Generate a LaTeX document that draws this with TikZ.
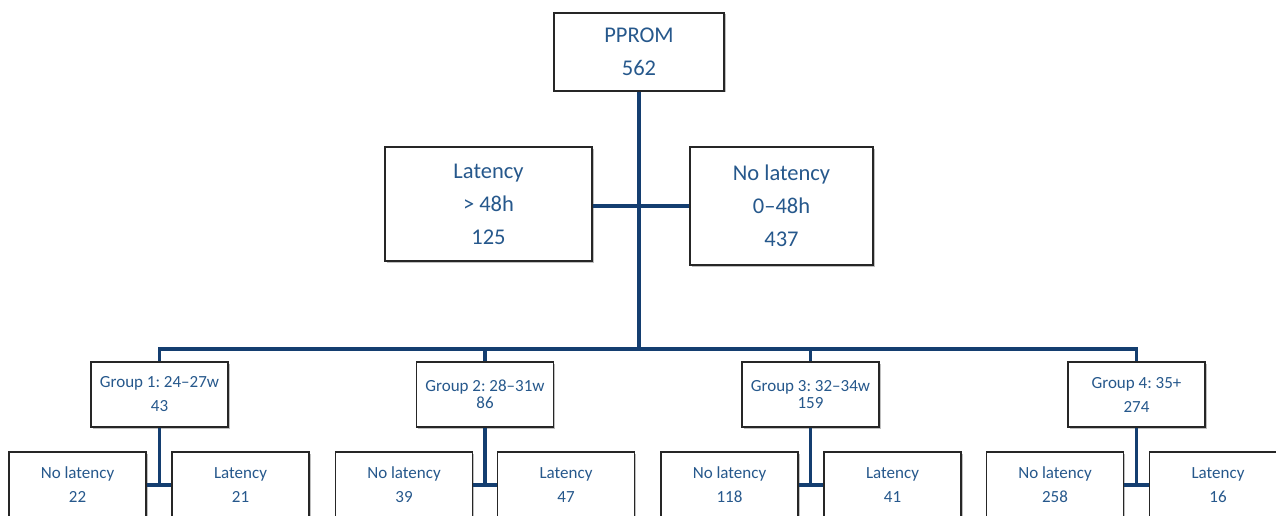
\documentclass[tikz,border=0pt]{standalone}
\usepackage{fontspec}
\setmainfont{Carlito}
\frenchspacing
\usetikzlibrary{shadows}
\definecolor{txtblue}{RGB}{38,88,140}
\definecolor{lineblue}{RGB}{20,62,112}
\tikzset{
  box/.style={draw=black!85, line width=1.1pt, fill=white, text=txtblue, align=center,
    inner sep=0pt, drop shadow={shadow xshift=1.5pt, shadow yshift=-1.5pt, fill=black, opacity=0.25}},
  bigbox/.style={box, font=\fontsize{22.5}{33}\selectfont},
  grpbox/.style={box, font=\fontsize{17}{24}\selectfont, minimum width=137pt, minimum height=65pt},
  tightgrp/.style={box, font=\fontsize{17}{16.5}\selectfont, minimum width=137pt, minimum height=65pt},
  leafbox/.style={box, font=\fontsize{17}{24}\selectfont, minimum width=137pt, minimum height=66pt},
  conn/.style={draw=lineblue, line width=3.8pt},
  subconn/.style={draw=lineblue, line width=3.2pt}
}
\begin{document}
\begin{tikzpicture}[x=1pt,y=-1pt]
\useasboundingbox (0,0) rectangle (1276,516);
\clip (0,0) rectangle (1276,516);
\coordinate (hub) at (639,349);
\coordinate (mid) at (639,206);
% nodes
\node[bigbox, minimum width=170pt, minimum height=78pt] (pprom) at (639,52) {PPROM\\562};
\node[bigbox, minimum width=207pt, minimum height=114pt] (lat) at (488.5,204) {Latency\\> 48h\\125};
\node[bigbox, minimum width=183pt, minimum height=118pt] (nolat) at (781.5,206) {No latency\\0--48h\\437};
\node[grpbox] (g1) at (159.5,394.5) {Group 1: 24--27w\\43};
\node[tightgrp] (g2) at (485,394.5) {Group 2: 28--31w\\86};
\node[tightgrp] (g3) at (810.5,394.5) {Group 3: 32--34w\\159};
\node[grpbox] (g4) at (1136.5,394.5) {Group 4: 35+\\274};
\node[leafbox] (nl1) at (77.5,485) {No latency\\22};
\node[leafbox] (l1) at (240.5,485) {Latency\\21};
\node[leafbox] (nl2) at (404,485) {No latency\\39};
\node[leafbox] (l2) at (566,485) {Latency\\47};
\node[leafbox] (nl3) at (729.5,485) {No latency\\118};
\node[leafbox] (l3) at (892.5,485) {Latency\\41};
\node[leafbox] (nl4) at (1055,485) {No latency\\258};
\node[leafbox] (l4) at (1218,485) {Latency\\16};
% connectors
\draw[conn] (pprom.south) -- (hub);
\draw[conn] (lat.east |- mid) -- (nolat.west);
\draw[conn] (g1.north) |- (hub) -| (g4.north);
\draw[conn] (g2.north) -- (g2.north |- hub);
\draw[conn] (g3.north) -- (g3.north |- hub);
\foreach \g/\a/\b in {g1/nl1/l1, g2/nl2/l2, g3/nl3/l3, g4/nl4/l4}{
  \draw[subconn] (\g.south) -- (\g.south |- \a.east);
  \draw[subconn] (\a.east) -- (\b.west);
}
\end{tikzpicture}
\end{document}
